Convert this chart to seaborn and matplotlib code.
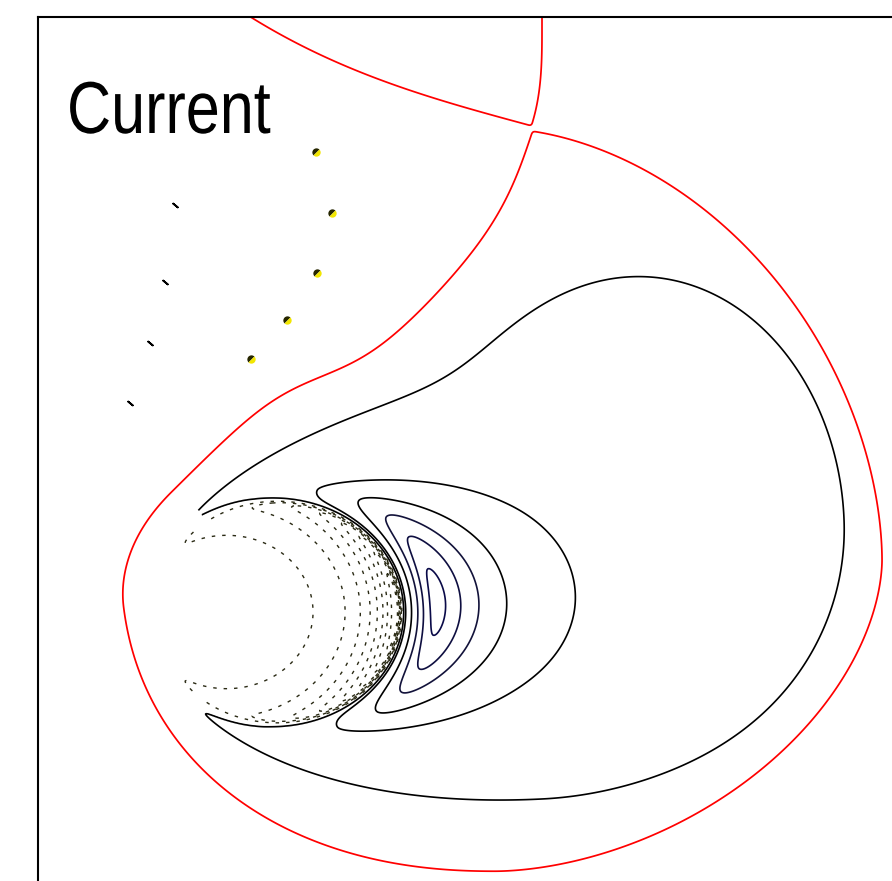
import numpy as np
import matplotlib
matplotlib.use('Agg')
import matplotlib.pyplot as plt
import matplotlib.patheffects as pe
from matplotlib.markers import MarkerStyle
from matplotlib.transforms import Affine2D
import seaborn as sns

# %% contour levels and colours
pos_levels = [1, 2, 3, 4, 5, 6]
neg_levels = [-9, -8, -7, -6, -5, -4, -3, -2, -1]
pos_colors = ['black', 'black', 'black', '#12123a', '#0e0e40', '#0a0a48']
neg_color = '#2a2a14'
sep_color = 'red'
title = 'Current'

# small isolated contours in the upper left (plot units = pixels)
blob_x = [316, 332, 317, 287, 251]
blob_y = [152, 213, 273, 320, 359]
tick_x = [175, 165, 150, 130]
tick_y = [205, 282, 343, 403]

# %% model parameters
hole_c = (275, 612)          # obstacle ellipse centre
hole_ab = (125, 111)         # obstacle semi axes
lobe_max = 1.7
lobe_a = dict(c=(640, 522), a=(197, 197), b=(243, 215))
lobe_b = dict(c=(520, 582), a=(370, 250), b=(195, 212), rot=6.0)
ridge_h0 = 4.66              # crescent peak height above the lobe
ridge_th0 = 4.0              # crescent centre angle (deg)
ridge_sig = 35.0             # angular width (deg)
ridge_rho = 1.29             # crescent radius in obstacle units
inner_scale = (328, 98, 1.65)

# separatrix (red): X point, loop shape, indentation
xpt = (532, 130)
loop_c = (495, 560)
loop_a = (375, 388)
loop_b = (433, 312)
loop_p = {'ul': 2.0, 'ur': 1.85, 'll': 2.2, 'lr': 1.8}
dent_amp, dent_end, dent_w = 50, 322, 30


class Squeeze(pe.AbstractPathEffect):
    """narrow the glyphs horizontally (reference uses a narrow face)"""

    def __init__(self, sx):
        super().__init__()
        self.sx = sx

    def draw_path(self, renderer, gc, tpath, affine, rgbFace=None):
        renderer.draw_path(gc, tpath, Affine2D().scale(self.sx, 1) + affine, rgbFace)


# %% grid
x = np.arange(38, 906, 1.0)
y = np.arange(17, 901, 1.0)
X, Y = np.meshgrid(x, y)


def smin(a, b, k):
    h = np.clip(0.5 + 0.5 * (b - a) / k, 0, 1)
    return b * (1 - h) + a * h - k * h * (1 - h)


def smax(a, b, k):
    return -smin(-a, -b, k)


# %% current density
ex = (X - hole_c[0]) / hole_ab[0]
ey = (Y - hole_c[1]) / hole_ab[1]
rho = np.hypot(ex, ey)
theta = np.degrees(np.arctan2(-ey, ex))

dx, dy = X - lobe_a['c'][0], Y - lobe_a['c'][1]
qa = (dx / np.where(dx < 0, *lobe_a['a'])) ** 2 + (dy / np.where(dy < 0, *lobe_a['b'])) ** 2
cr, sr = np.cos(np.radians(lobe_b['rot'])), np.sin(np.radians(lobe_b['rot']))
dx, dy = X - lobe_b['c'][0], Y - lobe_b['c'][1]
u = cr * dx - sr * dy
v = sr * dx + cr * dy
qb = (u / np.where(u < 0, *lobe_b['a'])) ** 2 + (v / np.where(v < 0, *lobe_b['b'])) ** 2
q = np.maximum(qa, 1e-9) ** -3 + np.maximum(qb, 1e-9) ** -3
q = q ** (-1 / 3)
lobe = lobe_max ** (1 - q ** 1.5)

dth = theta - ridge_th0
h = ridge_h0 * np.exp(-dth ** 2 / (2 * ridge_sig ** 2))
rho_r = np.maximum(ridge_rho - 0.16 * (dth / 73.5) ** 2, 1.0)
d = (rho - rho_r) * 120
lam = np.maximum(46 * (h / ridge_h0) ** 0.8, 1.0)
g = np.where(d >= 0, np.exp(-(np.sqrt(d ** 2 + 100) - 10) / lam), np.exp(-d ** 2 / (2 * 15 ** 2)))
j_out = lobe + h * g

x1, l1, b1 = inner_scale
j_in = -np.exp(np.clip((X - x1) / l1 + b1 * rho ** 2, None, 6))
s = 1 / (1 + np.exp(np.clip((rho - 1) / 0.012, -50, 50)))
J = s * j_in + (1 - s) * j_out
J = np.ma.masked_where((np.abs(theta) > 124) & (rho > 0.975) & (rho < 1.15), J)

# %% separatrix function
dx, dy = X - loop_c[0], Y - loop_c[1]
a = np.where(dx < 0, *loop_a)
b = np.where(dy < 0, *loop_b)
p = np.where(dy < 0, np.where(dx < 0, loop_p['ul'], loop_p['ur']),
             np.where(dx < 0, loop_p['ll'], loop_p['lr']))
rn = (np.abs(dx / a) ** p + np.abs(dy / b) ** p) ** (1 / p)
D = (1 - rn) * 400

sx = (-(X - xpt[0]) + (Y - xpt[1])) * 0.7071
tx = ((X - xpt[0]) + (Y - xpt[1])) * 0.7071
dent = dent_amp * np.tanh(np.maximum(sx, 0) / 100) / (1 + np.exp(np.clip((sx - dent_end) / dent_w, -50, 50)))
H = tx - dent

y_line = 127 - 0.27 * (xpt[0] - X) - 1.48e-6 * (xpt[0] - X) ** 3
T1 = (y_line - Y) * 0.96
x_line = 543 - 1.1e-5 * (Y - 27) ** 3
T2 = x_line - X

# rounding grows away from the X point
k_loop = 3 + 45 * np.clip((sx - 330) / 150, 0, 1)
F = smax(smin(D, H, k_loop), smin(T1, T2, 3), 2) - 1.0

# %% plot
sns.set_theme(style='white')
fig = plt.figure(figsize=(8.92, 8.81), dpi=100)
ax = fig.add_axes([38 / 892, 1 - 900 / 881, 867 / 892, 883 / 881])

ax.contour(X, Y, J, levels=neg_levels, colors=neg_color, linewidths=1.0,
           linestyles=[(0, (2.5, 5))] * len(neg_levels))
ax.contour(X, Y, J, levels=pos_levels, colors=pos_colors, linewidths=1.2)
ax.contour(X, Y, F, levels=[0], colors=sep_color, linewidths=1.25)

blob_marker = MarkerStyle('o', fillstyle='left', transform=Affine2D().rotate_deg(-45))
ax.plot(blob_x, blob_y, ls='none', marker=blob_marker, ms=6,
        markerfacecolor='#262600', markerfacecoloralt='#f2e600', markeredgewidth=0)
sns.scatterplot(x=tick_x, y=tick_y, marker=(2, 2, 50), s=18, color='black',
                edgecolor='black', linewidth=1.3, ax=ax, legend=False)

ax.text(67, 133, title, fontsize=53, va='baseline', ha='left', color='black',
        family=['Liberation Sans', 'DejaVu Sans'], path_effects=[Squeeze(0.83)])

ax.set_xlim(38, 905)
ax.set_ylim(900, 17)
ax.set_xticks([])
ax.set_yticks([])
for sp in ax.spines.values():
    sp.set_color('black')
    sp.set_linewidth(1.5)

fig.savefig('out.png', dpi=100)
